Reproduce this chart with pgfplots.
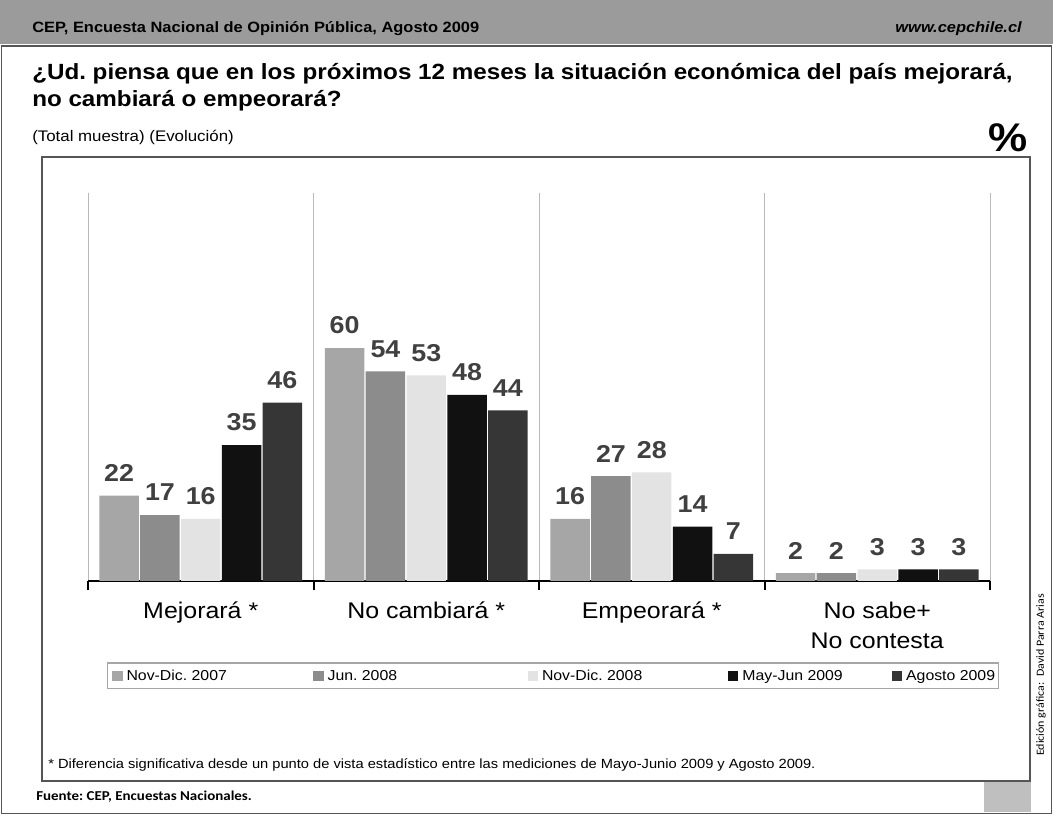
\documentclass[border=0pt]{standalone}
\usepackage{fontspec}
\setmainfont{Liberation Sans}[FakeStretch=1.1]
\newfontfamily\calfont{Carlito}[FakeStretch=1.1]
\usepackage{pgfplots}
\pgfplotsset{compat=1.18}

\definecolor{cA}{HTML}{A6A6A6}
\definecolor{cB}{HTML}{8C8C8C}
\definecolor{cC}{HTML}{E3E3E3}
\definecolor{cD}{HTML}{111111}
\definecolor{cE}{HTML}{363636}
\definecolor{lbl}{HTML}{404040}
\definecolor{hdr}{HTML}{9B9B9B}
\definecolor{frame}{HTML}{555555}

\begin{document}
\frenchspacing
\begin{tikzpicture}[x=0.75pt,y=0.75pt]
\useasboundingbox (0,0) rectangle (1053,816);
% header band
\fill[hdr] (0,816) rectangle (1053,772);
\draw[frame,line width=0.8pt] (1.5,770) -- (1.5,2.5) -- (1051.5,2.5) -- (1051.5,770) -- cycle;
\node[anchor=base west,inner sep=0] at (32,783) {\bfseries\fontsize{11.2}{13}\selectfont CEP, Encuesta Nacional de Opinión Pública, Agosto 2009};
\node[anchor=base east,inner sep=0] at (1022,783) {\bfseries\itshape\fontsize{11.2}{13}\selectfont www.cepchile.cl};
% title
\node[anchor=base west,inner sep=0] at (32,736) {\bfseries\fontsize{16.5}{20}\selectfont ¿Ud. piensa que en los próximos 12 meses la situación económica del país mejorará,};
\node[anchor=base west,inner sep=0] at (32,709) {\bfseries\fontsize{16.5}{20}\selectfont no cambiará o empeorará?};
\node[anchor=base west,inner sep=0] at (32,674) {\fontsize{11.5}{13}\selectfont (Total muestra) (Evolución)};
\node[inner sep=0] at (1008,678) {\bfseries\fontsize{30}{32}\selectfont \%};
% chart box
\draw[frame,line width=0.8pt] (42,659) rectangle (1030,35);
\node[anchor=base west,inner sep=0] at (48,47) {\fontsize{10}{12}\selectfont * Diferencia significativa desde un punto de vista estadístico entre las mediciones de Mayo-Junio 2009 y Agosto 2009.};
\node[anchor=base west,inner sep=0] at (36,15) {\calfont\bfseries\fontsize{10.2}{12}\selectfont Fuente: CEP, Encuestas Nacionales.};
\fill[gray!50] (984,34) rectangle (1031,3.5);
\node[rotate=90,inner sep=0] at (1041,141) {\calfont\fontsize{8.2}{10}\selectfont Edición gráfica:\ \ David Parra Arias};

\begin{axis}[
    at={(66pt,176.25pt)}, anchor=south west,
    scale only axis,
    width=676.5pt, height=291pt,
    xmin=-0.5, xmax=3.5, ymin=0, ymax=100,
    clip=false,
    /pgf/number format/assume math mode=true,
    axis x line*=bottom,
    axis y line=none,
    x axis line style={black,line width=1.8pt},
    xtick={-0.5,0.5,1.5,2.5,3.5},
    xticklabels={},
    xmajorgrids,
    grid style={gray!55,line width=0.7pt},
    tick align=outside,
    major tick length=7pt,
    tick style={black,line width=1.5pt},
    extra x ticks={0,1,2,3},
    extra x tick labels={Mejorará *,No cambiará *,Empeorará *,{No sabe+\\No contesta}},
    extra x tick style={major tick length=0pt,grid=none,
        xticklabel style={align=center,anchor=north,yshift=-12pt,
        font=\fontsize{17}{22.5}\selectfont}},
    ybar=1pt,
    bar width=29.6pt,
    every axis plot/.append style={draw=none,
        legend image code/.code={\fill[##1] (0pt,-3.8pt) rectangle (7.8pt,3.8pt);}},
    nodes near coords,
    nodes near coords style={font=\bfseries\fontsize{18.3}{20}\selectfont,text=lbl,yshift=7pt},
    legend columns=5,
    legend style={at={(0.021,-0.21)},anchor=north west,draw=gray!70,line width=0.8pt,
        inner xsep=3.5pt,inner ysep=3pt,
        nodes={inner xsep=0pt,inner ysep=1.5pt,text height=1.6ex,text depth=0.3ex,
        font=\fontsize{10.8}{13}\selectfont},
        /tikz/every odd column/.append style={column sep=3pt}},
]
\addplot[fill=cA] coordinates {(0,22) (1,60) (2,16) (3,2)};
\addplot[fill=cB] coordinates {(0,17) (1,54) (2,27) (3,2)};
\addplot[fill=cC] coordinates {(0,16) (1,53) (2,28) (3,3)};
\addplot[fill=cD] coordinates {(0,35) (1,48) (2,14) (3,3)};
\addplot[fill=cE] coordinates {(0,46) (1,44) (2,7) (3,3)};
\legend{\makebox[140pt][l]{Nov-Dic. 2007},\makebox[150pt][l]{Jun. 2008},\makebox[139.5pt][l]{Nov-Dic. 2008},\makebox[112pt][l]{May-Jun 2009},\makebox[66pt][l]{Agosto 2009}}
\end{axis}
\end{tikzpicture}
\end{document}
